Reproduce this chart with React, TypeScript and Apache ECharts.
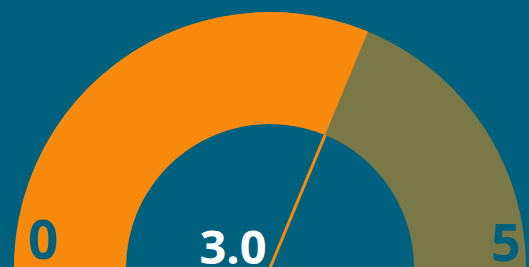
import React, { useEffect, useRef } from "react";
import * as echarts from "echarts";

const gaugeMin = 0;
const gaugeMax = 5;
const gaugeValues = [3.0];
const endLabels = [String(gaugeMin), String(gaugeMax)];

const BG = "#00617F";
const ORANGE = "#F7890D";
const OLIVE = "#7B7848";

export default function App() {
  const ref = useRef<HTMLDivElement>(null);
  useEffect(() => {
    if (!ref.current) return;
    const chart = echarts.init(ref.current, undefined, { renderer: "svg" });
    const cx = 270;
    const cy = 268;
    chart.setOption({
      animation: false,
      backgroundColor: BG,
      series: [
        {
          type: "gauge",
          z: 2,
          center: [cx, cy],
          radius: 256,
          startAngle: 202.5,
          endAngle: -22.5,
          min: gaugeMin,
          max: gaugeMax,
          axisLine: { lineStyle: { width: 112, color: [[1, OLIVE]] } },
          progress: { show: true, width: 112, roundCap: false, itemStyle: { color: ORANGE } },
          splitLine: { show: false },
          axisTick: { show: false },
          axisLabel: { show: false },
          pointer: {
            show: true,
            icon: "rect",
            width: 3,
            length: 144,
            offsetCenter: [0, 0],
            itemStyle: { color: ORANGE },
          },
          anchor: { show: false },
          title: { show: false },
          detail: {
            show: true,
            offsetCenter: [-37, -22],
            color: "#FFFFFF",
            fontSize: 47,
            fontWeight: "bold",
            fontFamily: "Open Sans",
            formatter: (v: number) => v.toFixed(1),
          },
          data: gaugeValues.map((v) => ({ value: v })),
        },
      ],
      graphic: {
        elements: [
          {
            type: "text",
            z: 100,
            x: 28,
            y: 212,
            style: { text: endLabels[0], fill: BG, fontSize: 53, fontWeight: "bold", fontFamily: "Open Sans" },
          },
          {
            type: "text",
            z: 100,
            x: 491,
            y: 214,
            style: { text: endLabels[1], fill: BG, fontSize: 52, fontWeight: "bold", fontFamily: "Open Sans" },
          },
        ],
      },
    });
    return () => chart.dispose();
  }, []);
  return (
    <div
      ref={ref}
      style={{ position: "absolute", left: 0, top: 0, width: 529, height: 267 }}
    />
  );
}
